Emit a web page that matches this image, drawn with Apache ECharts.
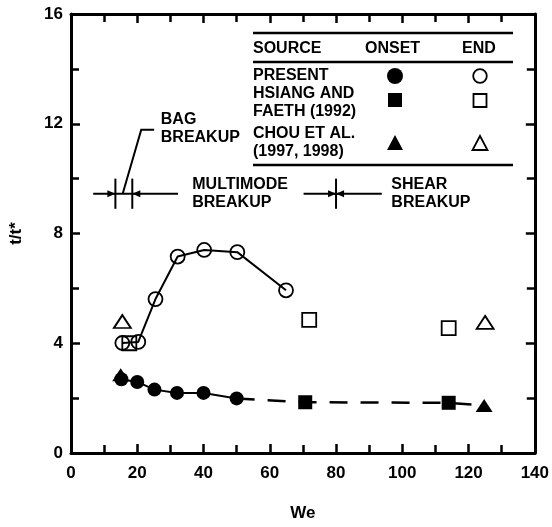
<!DOCTYPE html>
<html>
<head>
<meta charset="utf-8">
<script src="https://cdn.jsdelivr.net/npm/echarts@6/dist/echarts.min.js"></script>
<style>
  html, body { margin: 0; padding: 0; background: #fff; }
  #chart { width: 552px; height: 527px; }
</style>
</head>
<body>
<div id="chart"></div>
<script>
// Breakup time t/t* against Weber number We
const xTicks = [0, 20, 40, 60, 80, 100, 120, 140];
const yTicks = [0, 4, 8, 12, 16];

// Present study
const presentOnsetWe = [15.2, 20.0, 25.2, 32.0, 40.0, 50.0];
const presentOnsetT  = [2.69, 2.59, 2.31, 2.19, 2.19, 1.99];
const presentEndWe   = [15.5, 20.3, 25.5, 32.2, 40.2, 50.2, 64.9];
const presentEndT    = [4.01, 4.05, 5.61, 7.16, 7.40, 7.32, 5.93];

// Hsiang and Faeth (1992)
const hsiangOnsetWe = [70.7, 114.0];
const hsiangOnsetT  = [1.85, 1.83];
const hsiangEndWe   = [17.6, 71.9, 114.0];
const hsiangEndT    = [4.00, 4.85, 4.55];

// Chou et al. (1997, 1998)
const chouOnsetWe = [15.0, 124.7];
const chouOnsetT  = [2.85, 1.73];
const chouEndWe   = [15.5, 125.0];
const chouEndT    = [4.79, 4.76];

// Dashed trend of onset times at higher We
const trendWe = [50.0, 70.7, 114.0, 124.7];
const trendT  = [1.99, 1.85, 1.83, 1.73];

// Regime boundaries (We)
const bagBounds = [13.4, 18.5];
const shearBound = 80;

const pairs = (xs, ys) => xs.map((x, i) => [x, ys[i]]);

const FONT = '"Liberation Sans", Arial, Helvetica, sans-serif';
const INK = '#000';

const chart = echarts.init(document.getElementById('chart'), null, { renderer: 'canvas' });

const axisCommon = {
  axisLine: { show: true, onZero: false, lineStyle: { color: INK, width: 3 } },
  axisTick: { show: true, inside: true, length: 9, lineStyle: { color: INK, width: 2.5 } },
  minorTick: { show: true, splitNumber: 2, length: 8, lineStyle: { color: INK, width: 2.5 } },
  splitLine: { show: false },
  minorSplitLine: { show: false }
};

const labelStyle = { color: INK, fontFamily: FONT, fontWeight: 'bold', fontSize: 17 };

const openItem = { color: 'rgba(0,0,0,0)', borderColor: INK, borderWidth: 1.8, opacity: 1 };
const fillItem = { color: INK, borderColor: INK, borderWidth: 0, opacity: 1 };

chart.setOption({
  animation: false,
  backgroundColor: '#fff',
  grid: { left: 69.5, right: 16.5, top: 14, bottom: 69 },
  xAxis: [
    Object.assign({
      type: 'value', position: 'bottom', min: xTicks[0], max: xTicks[xTicks.length - 1],
      interval: xTicks[1] - xTicks[0],
      name: 'We', nameLocation: 'middle', nameGap: 52,
      nameTextStyle: labelStyle,
      axisLabel: Object.assign({ margin: 12 }, labelStyle)
    }, axisCommon),
    Object.assign({
      type: 'value', position: 'top', min: xTicks[0], max: xTicks[xTicks.length - 1],
      interval: xTicks[1] - xTicks[0],
      axisLabel: { show: false }
    }, axisCommon)
  ],
  yAxis: [
    Object.assign({
      type: 'value', position: 'left', min: yTicks[0], max: yTicks[yTicks.length - 1],
      interval: yTicks[1] - yTicks[0],
      name: 't/t*', nameLocation: 'middle', nameGap: 46, nameRotate: 90,
      nameTextStyle: labelStyle,
      axisLabel: Object.assign({ margin: 8 }, labelStyle)
    }, axisCommon),
    Object.assign({
      type: 'value', position: 'right', min: yTicks[0], max: yTicks[yTicks.length - 1],
      interval: yTicks[1] - yTicks[0],
      axisLabel: { show: false }
    }, axisCommon)
  ],
  series: [
    {
      name: 'trend', type: 'line', data: pairs(trendWe, trendT), symbol: 'none',
      lineStyle: { color: INK, width: 2.5, type: [18, 13] }, z: 1
    },
    {
      name: 'Present end', type: 'line', data: pairs(presentEndWe, presentEndT),
      symbol: 'circle', symbolSize: 14, itemStyle: openItem,
      lineStyle: { color: INK, width: 2 }, z: 3
    },
    {
      name: 'Present onset', type: 'line', data: pairs(presentOnsetWe, presentOnsetT),
      symbol: 'circle', symbolSize: 14, itemStyle: fillItem,
      lineStyle: { color: INK, width: 2 }, z: 4
    },
    {
      name: 'Hsiang end', type: 'scatter', data: pairs(hsiangEndWe, hsiangEndT),
      symbol: 'rect', symbolSize: 14, itemStyle: openItem, z: 3
    },
    {
      name: 'Hsiang onset', type: 'scatter', data: pairs(hsiangOnsetWe, hsiangOnsetT),
      symbol: 'rect', symbolSize: 14, itemStyle: fillItem, z: 4
    },
    {
      name: 'Chou end', type: 'scatter', data: pairs(chouEndWe, chouEndT),
      symbol: 'triangle', symbolSize: [17, 13], itemStyle: openItem, z: 3
    },
    {
      name: 'Chou onset', type: 'scatter', data: pairs(chouOnsetWe, chouOnsetT),
      symbol: 'triangle', symbolSize: [17, 13], itemStyle: fillItem, z: 2
    }
  ]
});

// Annotations: regime bars and the source table
function px(we, t) {
  return chart.convertToPixel({ xAxisIndex: 0, yAxisIndex: 0 }, [we, t]);
}

const g = [];

function line(p1, p2, w) {
  g.push({ type: 'line', shape: { x1: p1[0], y1: p1[1], x2: p2[0], y2: p2[1] },
    style: { stroke: INK, lineWidth: w || 2 }, z: 10 });
}
function arrow(tip, dir) {
  // dir = +1 points right, -1 points left
  const L = 8, H = 3.5;
  g.push({ type: 'polygon', shape: { points: [tip, [tip[0] - dir * L, tip[1] - H], [tip[0] - dir * L, tip[1] + H]] },
    style: { fill: INK }, z: 10 });
}
function text(x, y, s, align, vAlign) {
  g.push({ type: 'text', x: x, y: y, z: 10,
    style: { text: s, fill: INK, font: 'bold 16px ' + FONT, align: align || 'left',
      verticalAlign: vAlign || 'middle', lineHeight: 18 } });
}

const level = 9.45, half = 0.55;
// Bag breakup bar
line(px(6.7, level), px(32.3, level));
bagBounds.forEach(b => line(px(b, level + half), px(b, level - half), 2));
arrow(px(bagBounds[0], level), 1);
arrow(px(bagBounds[1], level), -1);
// Leader from the label to the bag span
const lead1 = px(15.6, level), lead2 = px(21.2, 11.78), lead3 = px(25.1, 11.78);
g.push({ type: 'polyline', shape: { points: [lead1, lead2, lead3] }, style: { stroke: INK, lineWidth: 2, fill: null }, z: 10 });
// Shear breakup bar
line(px(70.2, level), px(93.8, level));
line(px(shearBound, level + half), px(shearBound, level - half), 2);
arrow(px(shearBound, level), 1);
arrow(px(shearBound, level), -1);

const bagPos = px(27.1, 11.83);
text(bagPos[0], bagPos[1], 'BAG\nBREAKUP');
const mmPos = px(36.6, level);
text(mmPos[0], mmPos[1], 'MULTIMODE\nBREAKUP');
const shPos = px(96.7, level);
text(shPos[0], shPos[1], 'SHEAR\nBREAKUP');

// Source table
const tl = 253, tr = 513;
line([tl, 33], [tr, 33], 2.5);
line([tl, 62], [tr, 62], 2.5);
line([tl, 165], [tr, 165], 2.5);
text(tl, 49, 'SOURCE');
text(365, 49, 'ONSET');
text(462, 49, 'END');
text(tl, 76, 'PRESENT');
text(tl, 93.5, 'HSIANG AND');
text(tl, 111.5, 'FAETH (1992)');
text(tl, 133.5, 'CHOU ET AL.');
text(tl, 152, '(1997, 1998)');

const cOn = 395, cEnd = 480;
g.push({ type: 'circle', shape: { cx: cOn, cy: 76, r: 8 }, style: { fill: INK }, z: 10 });
g.push({ type: 'circle', shape: { cx: cEnd, cy: 76, r: 6.8 }, style: { fill: null, stroke: INK, lineWidth: 1.8 }, z: 10 });
g.push({ type: 'rect', shape: { x: cOn - 7, y: 93, width: 14, height: 14 }, style: { fill: INK }, z: 10 });
g.push({ type: 'rect', shape: { x: cEnd - 6.5, y: 94, width: 13, height: 13 }, style: { fill: null, stroke: INK, lineWidth: 1.8 }, z: 10 });
g.push({ type: 'polygon', shape: { points: [[cOn, 135], [cOn - 8, 150], [cOn + 8, 150]] }, style: { fill: INK }, z: 10 });
g.push({ type: 'polygon', shape: { points: [[cEnd, 136], [cEnd - 7.5, 150], [cEnd + 7.5, 150]] }, style: { fill: null, stroke: INK, lineWidth: 1.8 }, z: 10 });

chart.setOption({ graphic: g });
</script>
</body>
</html>
